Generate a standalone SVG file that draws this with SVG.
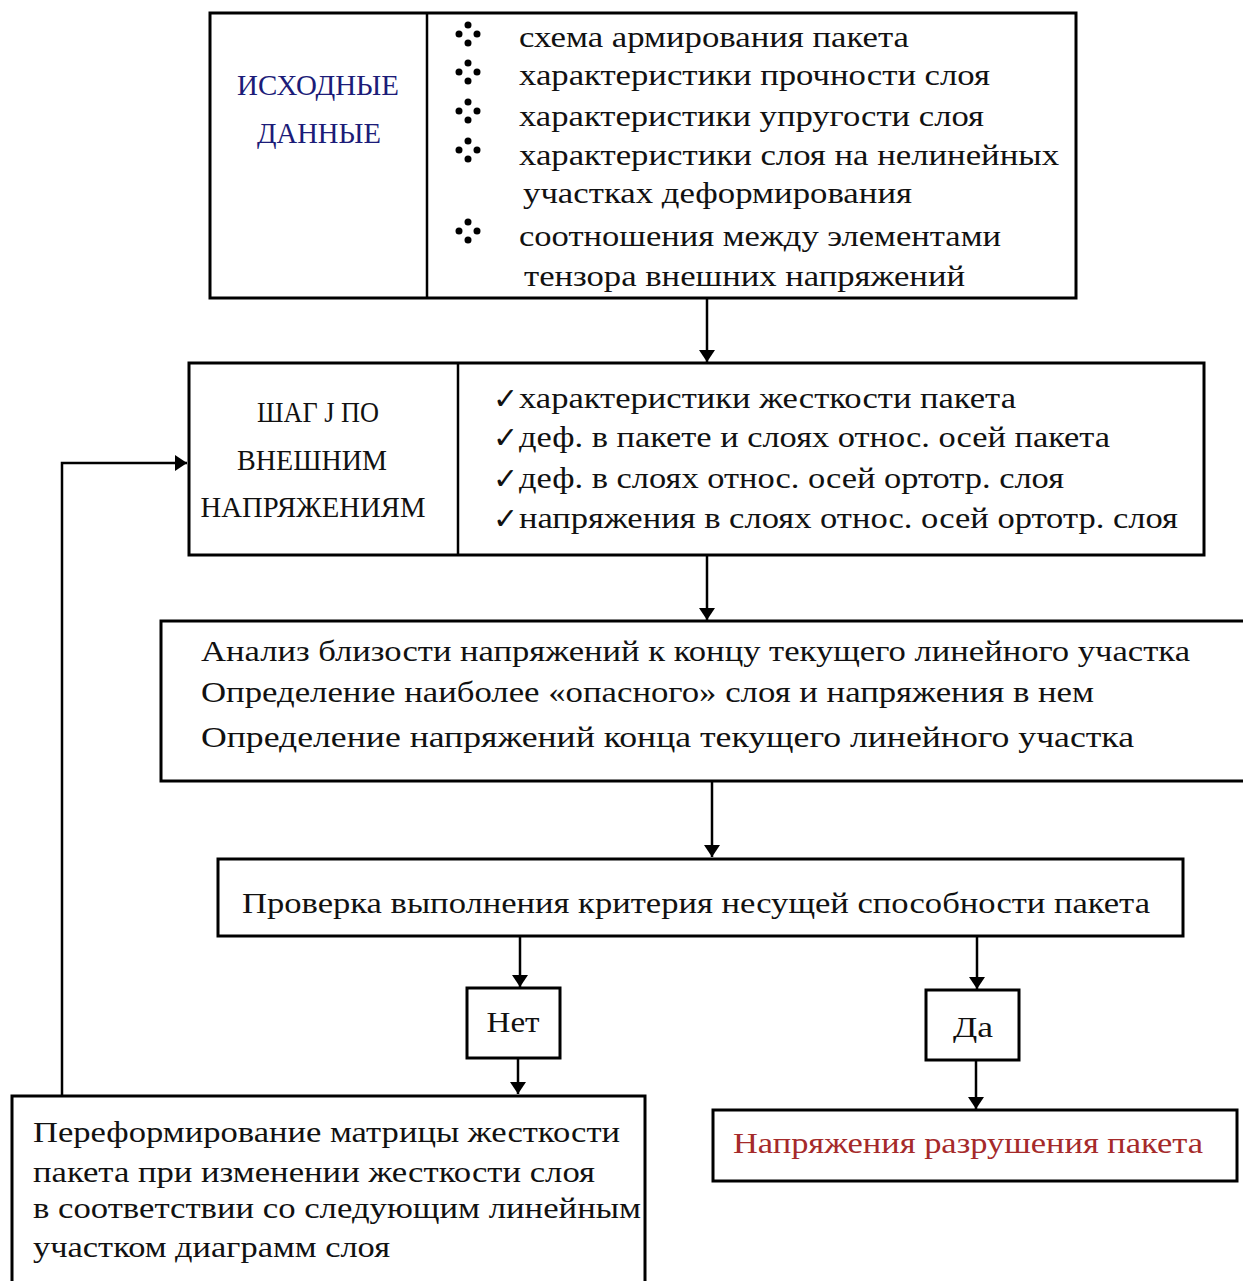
<svg xmlns="http://www.w3.org/2000/svg" xmlns:xlink="http://www.w3.org/1999/xlink" width="1243" height="1281" viewBox="0 0 1243 1281">
<style>
.box{fill:#fff;stroke:#000;stroke-width:3}
.ln{fill:none;stroke:#000;stroke-width:2.5}
.t{font-family:"Liberation Serif","DejaVu Serif",serif;font-size:30px;fill:#111}
.c{text-anchor:middle}
.blue{fill:#1c1c78}
.red{fill:#a52a2a}
.chk{font-family:"DejaVu Sans",sans-serif;font-size:30px;fill:#111}
</style>
<defs>
<marker id="ah" viewBox="0 0 12 16" refX="12" refY="8" markerWidth="12" markerHeight="16" markerUnits="userSpaceOnUse" orient="auto"><path d="M0,0 L12,8 L0,16 Z" fill="#000"/></marker>
<g id="bul"><circle cx="0" cy="-9" r="3.5"/><circle cx="-9" cy="0" r="3.5"/><circle cx="9" cy="0" r="3.5"/><circle cx="0" cy="9" r="3.5"/></g>
</defs>
<rect width="1243" height="1281" fill="#fff"/>
<g id="connectors">
<line class="ln" x1="707" y1="299" x2="707" y2="362" marker-end="url(#ah)"/>
<line class="ln" x1="707" y1="556" x2="707" y2="620" marker-end="url(#ah)"/>
<line class="ln" x1="712" y1="782" x2="712" y2="857" marker-end="url(#ah)"/>
<line class="ln" x1="520" y1="937" x2="520" y2="987" marker-end="url(#ah)"/>
<line class="ln" x1="977" y1="937" x2="977" y2="989" marker-end="url(#ah)"/>
<line class="ln" x1="518" y1="1059" x2="518" y2="1094" marker-end="url(#ah)"/>
<line class="ln" x1="976" y1="1061" x2="976" y2="1109" marker-end="url(#ah)"/>
<polyline class="ln" points="62,1095 62,463 187,463" marker-end="url(#ah)"/>
</g>
<g id="node-input">
<rect class="box" x="210" y="13" width="866" height="285"/>
<line class="ln" x1="427" y1="13" x2="427" y2="298" stroke-width="3"/>
<text class="t c blue" x="318" y="95" textLength="162" lengthAdjust="spacingAndGlyphs">ИСХОДНЫЕ</text>
<text class="t c blue" x="319" y="143" textLength="124" lengthAdjust="spacingAndGlyphs">ДАННЫЕ</text>
<use xlink:href="#bul" x="468" y="34"/>
<use xlink:href="#bul" x="468" y="72"/>
<use xlink:href="#bul" x="468" y="111"/>
<use xlink:href="#bul" x="468" y="150"/>
<use xlink:href="#bul" x="468" y="231"/>
<text class="t" x="519" y="47" textLength="390" lengthAdjust="spacingAndGlyphs">схема армирования пакета</text>
<text class="t" x="519" y="85" textLength="471" lengthAdjust="spacingAndGlyphs">характеристики прочности слоя</text>
<text class="t" x="519" y="126" textLength="465" lengthAdjust="spacingAndGlyphs">характеристики упругости слоя</text>
<text class="t" x="519" y="165" textLength="540" lengthAdjust="spacingAndGlyphs">характеристики слоя на нелинейных</text>
<text class="t" x="523" y="203" textLength="389" lengthAdjust="spacingAndGlyphs">участках деформирования</text>
<text class="t" x="519" y="246" textLength="482" lengthAdjust="spacingAndGlyphs">соотношения между элементами</text>
<text class="t" x="524" y="286" textLength="441" lengthAdjust="spacingAndGlyphs">тензора внешних напряжений</text>
</g>
<g id="node-step">
<rect class="box" x="189" y="363" width="1015" height="192"/>
<line class="ln" x1="458" y1="363" x2="458" y2="555" stroke-width="3"/>
<text class="t c" x="318" y="422" textLength="122" lengthAdjust="spacingAndGlyphs">ШАГ J ПО</text>
<text class="t c" x="312" y="470" textLength="150" lengthAdjust="spacingAndGlyphs">ВНЕШНИМ</text>
<text class="t c" x="313" y="517" textLength="225" lengthAdjust="spacingAndGlyphs">НАПРЯЖЕНИЯМ</text>
<text class="chk" x="493" y="409">✓</text>
<text class="chk" x="493" y="448">✓</text>
<text class="chk" x="493" y="489">✓</text>
<text class="chk" x="493" y="529">✓</text>
<text class="t" x="519" y="408" textLength="497" lengthAdjust="spacingAndGlyphs">характеристики жесткости пакета</text>
<text class="t" x="519" y="447" textLength="591" lengthAdjust="spacingAndGlyphs">деф. в пакете и слоях относ. осей пакета</text>
<text class="t" x="519" y="488" textLength="545" lengthAdjust="spacingAndGlyphs">деф. в слоях относ. осей ортотр. слоя</text>
<text class="t" x="519" y="528" textLength="659" lengthAdjust="spacingAndGlyphs">напряжения в слоях относ. осей ортотр. слоя</text>
</g>
<g id="node-analysis">
<rect class="box" x="161" y="621" width="1090" height="160"/>
<text class="t" x="201" y="661" textLength="989" lengthAdjust="spacingAndGlyphs">Анализ близости напряжений к концу текущего линейного участка</text>
<text class="t" x="201" y="702" textLength="893" lengthAdjust="spacingAndGlyphs">Определение наиболее «опасного» слоя и напряжения в нем</text>
<text class="t" x="201" y="747" textLength="933" lengthAdjust="spacingAndGlyphs">Определение напряжений конца текущего линейного участка</text>
</g>
<g id="node-check">
<rect class="box" x="218" y="859" width="965" height="77"/>
<text class="t" x="242" y="913" textLength="908" lengthAdjust="spacingAndGlyphs">Проверка выполнения критерия несущей способности пакета</text>
</g>
<g id="node-no">
<rect class="box" x="467" y="988" width="93" height="70"/>
<text class="t c" x="513" y="1032" textLength="53" lengthAdjust="spacingAndGlyphs">Нет</text>
</g>
<g id="node-yes">
<rect class="box" x="926" y="990" width="93" height="70"/>
<text class="t c" x="973" y="1037" textLength="40" lengthAdjust="spacingAndGlyphs">Да</text>
</g>
<g id="node-reform">
<rect class="box" x="12" y="1096" width="633" height="200"/>
<text class="t" x="33" y="1142" textLength="587" lengthAdjust="spacingAndGlyphs">Переформирование матрицы жесткости</text>
<text class="t" x="33" y="1182" textLength="562" lengthAdjust="spacingAndGlyphs">пакета при изменении жесткости слоя</text>
<text class="t" x="33" y="1218" textLength="608" lengthAdjust="spacingAndGlyphs">в соответствии со следующим линейным</text>
<text class="t" x="33" y="1257" textLength="357" lengthAdjust="spacingAndGlyphs">участком диаграмм слоя</text>
</g>
<g id="node-failure">
<rect class="box" x="713" y="1110" width="524" height="71"/>
<text class="t red" x="733" y="1153" textLength="470" lengthAdjust="spacingAndGlyphs">Напряжения разрушения пакета</text>
</g>
</svg>
